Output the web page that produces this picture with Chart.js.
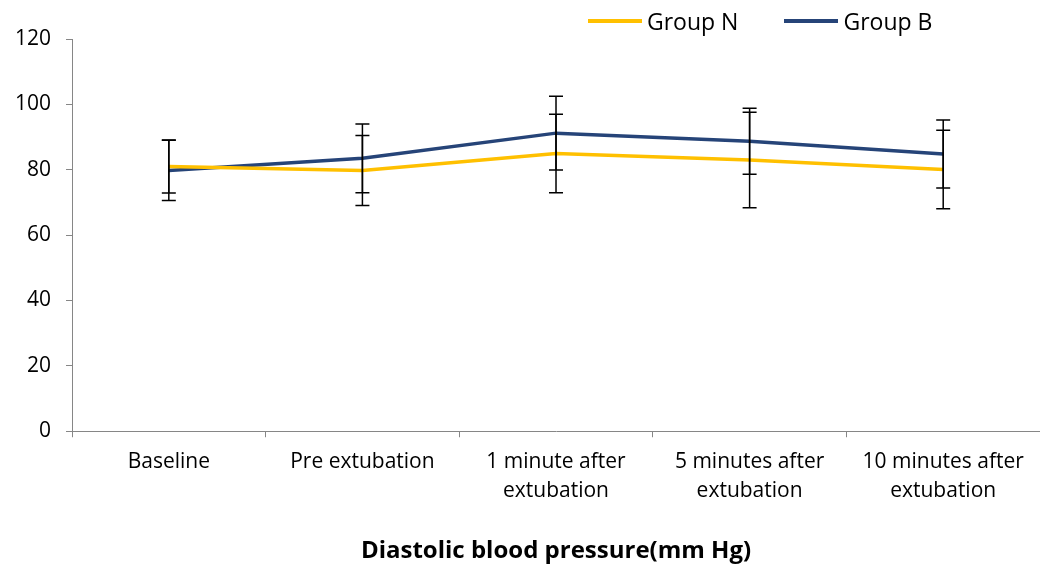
<!DOCTYPE html>
<html>
<head>
<meta charset="utf-8">
<script src="https://cdn.jsdelivr.net/npm/chart.js@4.4.0/dist/chart.umd.min.js"></script>
<style>
  body { margin: 0; background: #fff; }
  #wrap { position: relative; width: 1040px; height: 566px; }
  .legend { position: absolute; top: 5px; left: 588px; font-family: "Open Sans", sans-serif; font-size: 23px; color: #000; display: flex; }
  .item { display: flex; align-items: center; margin-right: 46px; }
  .swatch { width: 54px; height: 4px; margin-right: 5px; }
</style>
</head>
<body>
<div id="wrap">
  <canvas id="bpChart" width="1040" height="566"></canvas>
  <div class="legend">
    <div class="item"><span class="swatch" style="background:#FFC000"></span>Group N</div>
    <div class="item"><span class="swatch" style="background:#264478"></span>Group B</div>
  </div>
</div>
<script>
// time points
const labels = ['Baseline', 'Pre extubation', ['1 minute after', 'extubation'], ['5 minutes after', 'extubation'], ['10 minutes after', 'extubation']];

// mean diastolic BP
const groupN = [81.0, 79.8, 85.0, 83.0, 80.1];
const groupB = [79.8, 83.5, 91.2, 88.7, 84.8];

// standard deviations (error bars)
const sdN = [8.1, 10.7, 12.0, 14.6, 12.0];
const sdB = [9.2, 10.5, 11.3, 10.1, 10.4];

const yTicks = [0, 20, 40, 60, 80, 100, 120];

// draws the +/- SD bars through the chart's own scales
const errorBars = {
  id: 'errorBars',
  afterDatasetsDraw(chart) {
    const ctx = chart.ctx;
    const y = chart.scales.y;
    const sds = [sdN, sdB];
    ctx.save();
    ctx.strokeStyle = '#000';
    ctx.lineWidth = 1.5;
    chart.data.datasets.forEach((ds, i) => {
      const meta = chart.getDatasetMeta(i);
      meta.data.forEach((pt, j) => {
        const top = y.getPixelForValue(ds.data[j] + sds[i][j]);
        const bot = y.getPixelForValue(ds.data[j] - sds[i][j]);
        const x = pt.x;
        ctx.beginPath();
        ctx.moveTo(x, top); ctx.lineTo(x, bot);
        ctx.moveTo(x - 7, top); ctx.lineTo(x + 7, top);
        ctx.moveTo(x - 7, bot); ctx.lineTo(x + 7, bot);
        ctx.stroke();
      });
    });
    ctx.restore();
  }
};

new Chart(document.getElementById('bpChart'), {
  type: 'line',
  data: {
    labels,
    datasets: [
      { label: 'Group N', data: groupN, borderColor: '#FFC000', backgroundColor: '#FFC000', borderWidth: 3.5, pointRadius: 0, tension: 0 },
      { label: 'Group B', data: groupB, borderColor: '#264478', backgroundColor: '#264478', borderWidth: 3.5, pointRadius: 0, tension: 0 },
    ],
  },
  options: {
    responsive: false,
    animation: false,
    layout: { padding: { top: 39, left: 0, right: 0, bottom: 0 } },
    plugins: { legend: { display: false }, tooltip: { enabled: false } },
    scales: {
      x: {
        offset: true,
        grid: { offset: true, drawOnChartArea: false, color: '#868686', tickLength: 6 },
        border: { color: '#868686', width: 1 },
        ticks: { color: '#000', font: { family: 'Open Sans', size: 21, lineHeight: 1.38 }, padding: 10, maxRotation: 0, autoSkip: false },
        title: { display: true, text: 'Diastolic blood pressure(mm Hg)', color: '#000', font: { family: 'Open Sans', size: 24, weight: 'bold' }, padding: { top: 22, bottom: 0 } },
      },
      y: {
        min: 0, max: 120,
        afterBuildTicks: (axis) => { axis.ticks = yTicks.map(v => ({ value: v })); },
        grid: { drawOnChartArea: false, color: '#868686', tickLength: 6 },
        border: { color: '#868686', width: 1 },
        ticks: { color: '#000', font: { family: 'Open Sans', size: 21 }, padding: 15 },
      },
    },
  },
  plugins: [errorBars],
});
</script>
</body>
</html>
